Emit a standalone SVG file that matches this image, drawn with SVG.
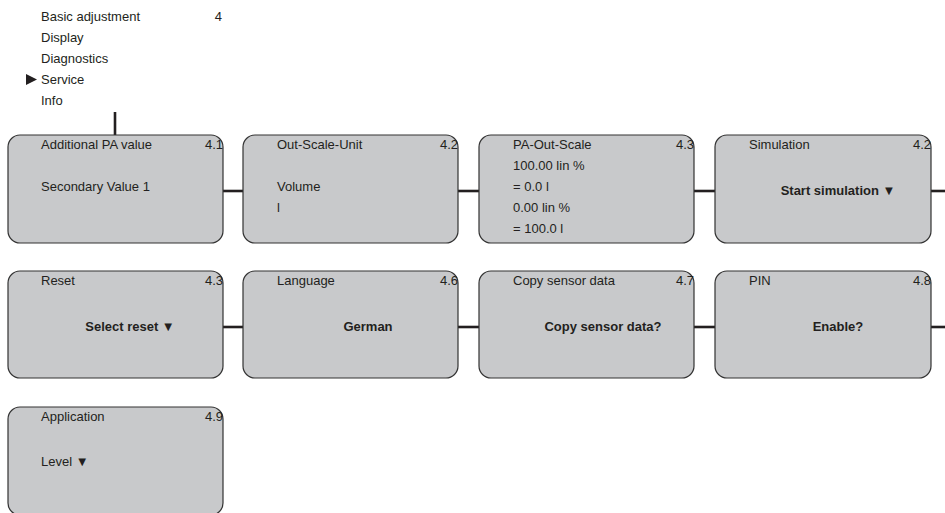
<svg xmlns="http://www.w3.org/2000/svg" width="945" height="513" viewBox="0 0 945 513">
<style>
text{font-family:"Liberation Sans",Arial,sans-serif;font-size:13px;fill:#231f20}
.b{font-weight:bold}
.r{text-anchor:end}
.m{text-anchor:middle}
.box{fill:#c8c9cb;stroke:#333;stroke-width:1.2}
.con{stroke:#231f20;stroke-width:2.6;fill:none}
</style>
<rect width="945" height="513" fill="#fff"/>
<g id="menu">
<text x="41" y="21">Basic adjustment</text>
<text x="222" y="21" class="r">4</text>
<text x="41" y="42">Display</text>
<text x="41" y="63">Diagnostics</text>
<polygon points="26,74 37,79.5 26,85" fill="#231f20"/>
<text x="41" y="84">Service</text>
<text x="41" y="105">Info</text>
</g>
<g id="connectors">
<line class="con" x1="115" y1="112" x2="115" y2="135"/>
<line class="con" x1="223" y1="191" x2="243" y2="191"/>
<line class="con" x1="458" y1="191" x2="479" y2="191"/>
<line class="con" x1="694" y1="191" x2="715" y2="191"/>
<line class="con" x1="931" y1="191" x2="945" y2="191"/>
<line class="con" x1="223" y1="327" x2="243" y2="327"/>
<line class="con" x1="458" y1="327" x2="479" y2="327"/>
<line class="con" x1="694" y1="327" x2="715" y2="327"/>
<line class="con" x1="931" y1="327" x2="945" y2="327"/>
</g>
<g id="n41">
<rect class="box" x="8" y="135" width="215" height="108" rx="12"/>
<text x="41" y="149">Additional PA value</text>
<text x="223" y="149" class="r">4.1</text>
<text x="41" y="191">Secondary Value 1</text>
</g>
<g id="n42a">
<rect class="box" x="243" y="135" width="215" height="108" rx="12"/>
<text x="277" y="149">Out-Scale-Unit</text>
<text x="458" y="149" class="r">4.2</text>
<text x="277" y="191">Volume</text>
<text x="277" y="212">l</text>
</g>
<g id="n43a">
<rect class="box" x="479" y="135" width="215" height="108" rx="12"/>
<text x="513" y="149">PA-Out-Scale</text>
<text x="694" y="149" class="r">4.3</text>
<text x="513" y="170">100.00 lin %</text>
<text x="513" y="191">= 0.0 l</text>
<text x="513" y="212">0.00 lin %</text>
<text x="513" y="233">= 100.0 l</text>
</g>
<g id="n42b">
<rect class="box" x="715" y="135" width="216" height="108" rx="12"/>
<text x="749" y="149">Simulation</text>
<text x="931" y="149" class="r">4.2</text>
<text x="838" y="195" class="b m">Start simulation ▼</text>
</g>
<g id="n43b">
<rect class="box" x="8" y="271" width="215" height="107" rx="12"/>
<text x="41" y="285">Reset</text>
<text x="223" y="285" class="r">4.3</text>
<text x="130" y="331" class="b m">Select reset ▼</text>
</g>
<g id="n46">
<rect class="box" x="243" y="271" width="215" height="107" rx="12"/>
<text x="277" y="285">Language</text>
<text x="458" y="285" class="r">4.6</text>
<text x="368" y="331" class="b m">German</text>
</g>
<g id="n47">
<rect class="box" x="479" y="271" width="215" height="107" rx="12"/>
<text x="513" y="285">Copy sensor data</text>
<text x="694" y="285" class="r">4.7</text>
<text x="603" y="331" class="b m">Copy sensor data?</text>
</g>
<g id="n48">
<rect class="box" x="715" y="271" width="216" height="107" rx="12"/>
<text x="749" y="285">PIN</text>
<text x="931" y="285" class="r">4.8</text>
<text x="838" y="331" class="b m">Enable?</text>
</g>
<g id="n49">
<rect class="box" x="8" y="407" width="215" height="108" rx="12"/>
<text x="41" y="421">Application</text>
<text x="223" y="421" class="r">4.9</text>
<text x="41" y="466">Level ▼</text>
</g>
</svg>
